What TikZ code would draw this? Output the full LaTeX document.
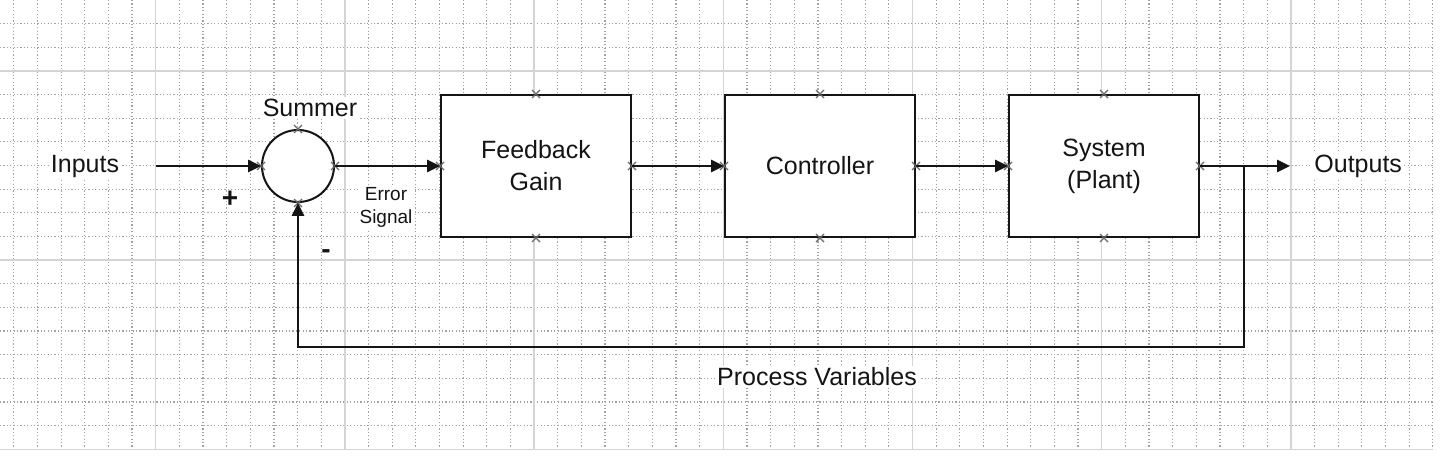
\documentclass[tikz,border=0pt]{standalone}
\usepackage{fontspec}
\setmainfont{Liberation Sans}
\usetikzlibrary{arrows.meta, positioning, calc}
\definecolor{cdInk}{HTML}{141414}
\definecolor{cdGrid}{HTML}{A2A2A2}
\definecolor{cdMajor}{HTML}{D4D4D4}
\definecolor{cdMark}{HTML}{6A6A6A}
\tikzset{
  block/.style={
    draw=cdInk, line width=1pt, fill=white, inner sep=0pt, align=center,
    minimum width=95pt, minimum height=71pt,
    font=\fontsize{12.5}{16}\selectfont, text=cdInk
  },
  sumnode/.style={draw=cdInk, circle, line width=1pt, fill=white,
    minimum size=36pt, inner sep=0pt},
  lbl/.style={font=\fontsize{12.5}{15}\selectfont, text=cdInk, fill=white, inner sep=1pt},
  smalllbl/.style={font=\fontsize{9.5}{11.5}\selectfont, text=cdInk, align=center,
    fill=white, inner sep=1pt},
  signlbl/.style={font=\fontsize{14}{16}\selectfont\bfseries, text=cdInk, inner sep=0pt},
  flow/.style={-{Triangle[length=6.5pt, width=6pt]}, line width=1.3pt, draw=cdInk},
  minorgrid/.style={draw=cdGrid, line width=0.6pt, dash pattern=on 0.6pt off 1.1pt},
  majorgrid/.style={draw=cdMajor, line width=0.7pt},
  cmark/.style={draw=cdMark, line width=0.55pt},
}

\begin{document}
\begin{tikzpicture}[x=0.5pt, y=-0.5pt, node distance=46pt]
  \useasboundingbox (0,0) rectangle (1444,458);

  % sheet grid
  \foreach \k in {0,...,60}
    \draw[minorgrid] ({13.8+23.65*\k},0) -- ({13.8+23.65*\k},449);
  \foreach \k in {1,...,18}
    \draw[minorgrid] (0,{23.65*\k}) -- (1433,{23.65*\k});
  \foreach \k in {6,14,...,54}
    \draw[majorgrid] ({13.8+23.65*\k},0) -- ({13.8+23.65*\k},449);
  \foreach \k in {3,11,19}
    \draw[majorgrid] (0,{23.65*\k}) -- (1433,{23.65*\k});

  % blocks
  \node[sumnode] (summer) at (298,166) {};
  \node[block, right=52.5pt of summer] (fbgain) {Feedback\\Gain};
  \node[block, right=of fbgain] (ctrl) {Controller};
  \node[block, right=of ctrl] (plant) {System\\(Plant)};

  % connection points
  \foreach \n in {summer, fbgain, ctrl, plant}
    \foreach \a in {north, south, east, west}
      \draw[cmark] (\n.\a) +(-2pt,-2pt) -- +(2pt,2pt)
                            +(-2pt,2pt) -- +(2pt,-2pt);

  % labels
  \node[lbl] (inputs) at (85,166) {Inputs};
  \node[lbl, above=5pt of summer.north, xshift=6pt] (sumlbl) {Summer};
  \node[signlbl] (plus) at (230,199) {+};
  \node[signlbl] (minus) at (326,254) {-};
  \node[smalllbl] (errsig) at (386,207) {Error\\Signal};
  \coordinate (instart) at (156,166);
  \coordinate (tap) at (1244,166);
  \coordinate (outend) at (1290,166);
  \coordinate (pvline) at (0,347);
  \node[lbl, right=11pt of outend] (outputs) {Outputs};
  \node[lbl] (procvar) at (817,377) {Process Variables};

  % signal flow
  \draw[flow] (instart) -- (summer.west);
  \draw[flow] (summer.east) -- (fbgain.west);
  \draw[flow] (fbgain.east) -- (ctrl.west);
  \draw[flow] (ctrl.east) -- (plant.west);
  \draw[flow] (plant.east) -- (outend);
  \draw[flow] (tap) -- (tap |- pvline) -| (summer.south);
\end{tikzpicture}
\end{document}
